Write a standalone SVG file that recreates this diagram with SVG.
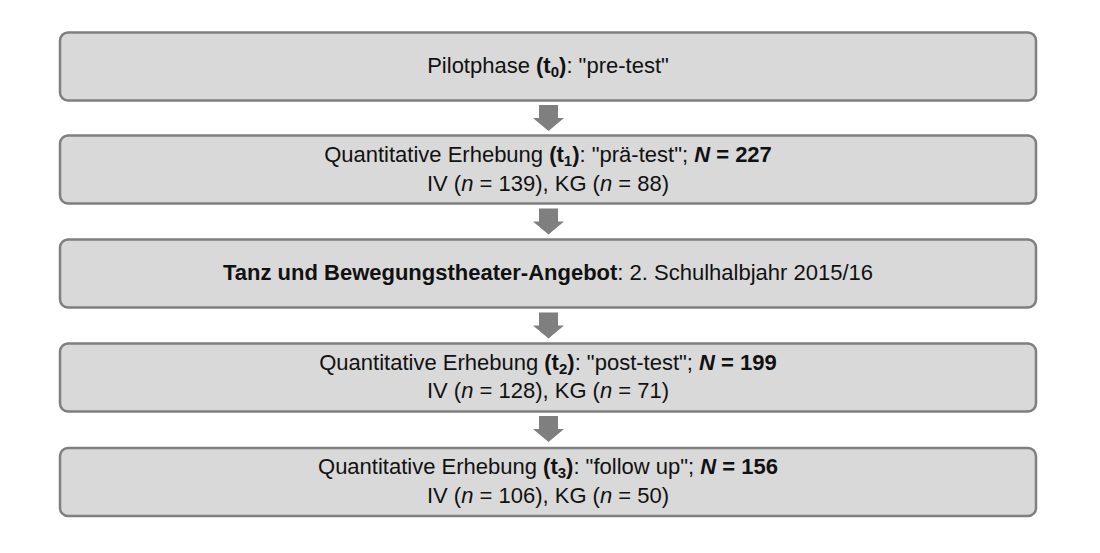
<svg xmlns="http://www.w3.org/2000/svg" width="1100" height="553" viewBox="0 0 1100 553">
<style>
.box{fill:#d9d9d9;stroke:#7f7f7f;stroke-width:2.5}
.arr{fill:#7f7f7f;stroke:none}
text{font-family:"Liberation Sans",Arial,sans-serif;font-size:22px;fill:#111;text-anchor:middle}
.b{font-weight:bold}
.i{font-style:italic}
.s{font-size:15px;font-weight:bold}
</style>
<defs>
<path id="arrow" d="M-9.5,0 H9.5 V13 H15.5 L0,26 L-15.5,13 H-9.5 Z"/>
</defs>
<rect width="1100" height="553" fill="#fff"/>
<g id="connectors">
<use href="#arrow" class="arr" x="548.5" y="105"/>
<use href="#arrow" class="arr" x="548.5" y="208.5"/>
<use href="#arrow" class="arr" x="548.5" y="312.5"/>
<use href="#arrow" class="arr" x="548.5" y="416"/>
</g>
<g id="n0">
<rect class="box" x="60" y="32.5" width="976" height="68" rx="8"/>
<text x="548" y="73">Pilotphase <tspan class="b">(t</tspan><tspan class="s" dy="4">0</tspan><tspan class="b" dy="-4">)</tspan>: "pre-test"</text>
</g>
<g id="n1">
<rect class="box" x="60" y="135.5" width="976" height="68" rx="8"/>
<text x="548" y="161.5">Quantitative Erhebung <tspan class="b">(t</tspan><tspan class="s" dy="4">1</tspan><tspan class="b" dy="-4">)</tspan>: "prä-test"; <tspan class="b i">N</tspan><tspan class="b"> = 227</tspan></text>
<text x="548" y="190.5">IV (<tspan class="i">n</tspan> = 139), KG (<tspan class="i">n</tspan> = 88)</text>
</g>
<g id="n2">
<rect class="box" x="60" y="239.5" width="976" height="68" rx="8"/>
<text x="548" y="280"><tspan class="b">Tanz und Bewegungstheater-Angebot</tspan>: 2. Schulhalbjahr 2015/16</text>
</g>
<g id="n3">
<rect class="box" x="60" y="343.5" width="976" height="68" rx="8"/>
<text x="548" y="369.5">Quantitative Erhebung <tspan class="b">(t</tspan><tspan class="s" dy="4">2</tspan><tspan class="b" dy="-4">)</tspan>: "post-test"; <tspan class="b i">N</tspan><tspan class="b"> = 199</tspan></text>
<text x="548" y="398">IV (<tspan class="i">n</tspan> = 128), KG (<tspan class="i">n</tspan> = 71)</text>
</g>
<g id="n4">
<rect class="box" x="60" y="448" width="976" height="68" rx="8"/>
<text x="548" y="474">Quantitative Erhebung <tspan class="b">(t</tspan><tspan class="s" dy="4">3</tspan><tspan class="b" dy="-4">)</tspan>: "follow up"; <tspan class="b i">N</tspan><tspan class="b"> = 156</tspan></text>
<text x="548" y="502.5">IV (<tspan class="i">n</tspan> = 106), KG (<tspan class="i">n</tspan> = 50)</text>
</g>
</svg>
